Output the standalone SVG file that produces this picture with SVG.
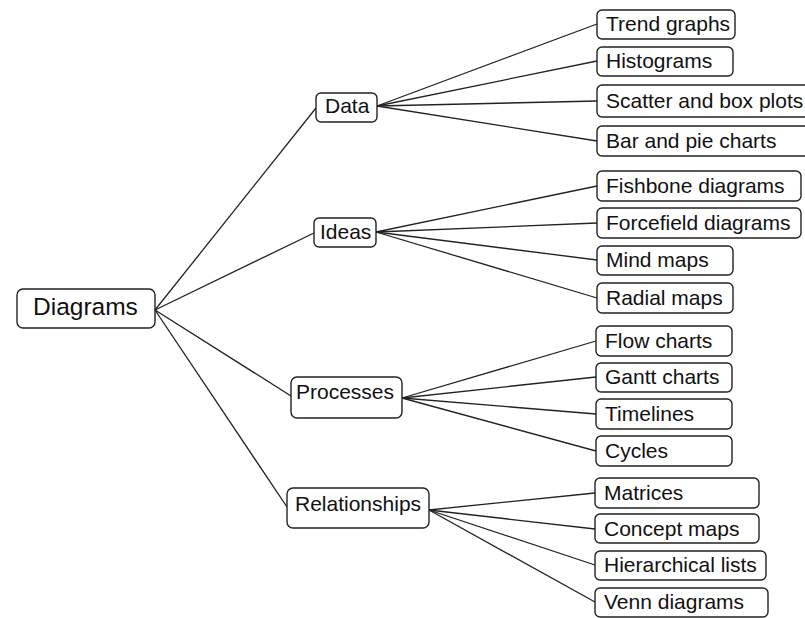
<svg xmlns="http://www.w3.org/2000/svg" width="805" height="618" viewBox="0 0 805 618">
<style>
.box{fill:#fff;stroke:#222;stroke-width:1.4}
.t{font-family:"Liberation Sans",Arial,sans-serif;font-size:21px;fill:#111}
.root{font-size:24.5px}
.c line{stroke:#222;stroke-width:1.3}
</style>
<rect width="805" height="618" fill="#fff"/>
<g class="c" id="connectors">
<line x1="155" y1="310" x2="316" y2="108"/>
<line x1="155" y1="310" x2="314" y2="233"/>
<line x1="155" y1="310" x2="291" y2="396"/>
<line x1="155" y1="310" x2="287" y2="507"/>
<line x1="377" y1="106" x2="597" y2="24"/>
<line x1="377" y1="106" x2="597" y2="61"/>
<line x1="377" y1="106" x2="597" y2="101"/>
<line x1="377" y1="106" x2="597" y2="141"/>
<line x1="376" y1="232" x2="597" y2="186"/>
<line x1="376" y1="232" x2="597" y2="223"/>
<line x1="376" y1="232" x2="597" y2="260"/>
<line x1="376" y1="232" x2="597" y2="298"/>
<line x1="402" y1="398" x2="596" y2="341"/>
<line x1="402" y1="398" x2="596" y2="377"/>
<line x1="402" y1="398" x2="596" y2="414"/>
<line x1="402" y1="398" x2="596" y2="451"/>
<line x1="429" y1="510" x2="595" y2="493"/>
<line x1="429" y1="510" x2="595" y2="529"/>
<line x1="429" y1="510" x2="595" y2="565"/>
<line x1="429" y1="510" x2="595" y2="602"/>
</g>
<g id="n-diagrams"><rect class="box" x="17" y="289" width="138" height="39" rx="6"/><text class="t root" x="33" y="315">Diagrams</text></g>
<g id="n-data"><rect class="box" x="316" y="93" width="61" height="29" rx="5"/><text class="t" x="325" y="113">Data</text></g>
<g id="n-ideas"><rect class="box" x="314" y="218" width="62" height="29" rx="5"/><text class="t" x="320" y="239">Ideas</text></g>
<g id="n-processes"><rect class="box" x="291" y="377" width="111" height="41" rx="6"/><text class="t" x="296" y="399">Processes</text></g>
<g id="n-relationships"><rect class="box" x="287" y="488" width="142" height="40" rx="6"/><text class="t" x="295" y="511">Relationships</text></g>
<g id="n-trend"><rect class="box" x="597" y="10" width="138" height="29" rx="5"/><text class="t" x="606" y="31">Trend graphs</text></g>
<g id="n-hist"><rect class="box" x="597" y="47" width="136" height="29" rx="5"/><text class="t" x="606" y="68">Histograms</text></g>
<g id="n-scatter"><rect class="box" x="597" y="85" width="215" height="32" rx="5"/><text class="t" x="606" y="108">Scatter and box plots</text></g>
<g id="n-bar"><rect class="box" x="597" y="126" width="215" height="30" rx="5"/><text class="t" x="606" y="148">Bar and pie charts</text></g>
<g id="n-fishbone"><rect class="box" x="597" y="171" width="204" height="30" rx="5"/><text class="t" x="606" y="193">Fishbone diagrams</text></g>
<g id="n-forcefield"><rect class="box" x="597" y="208" width="204" height="30" rx="5"/><text class="t" x="606" y="230">Forcefield diagrams</text></g>
<g id="n-mind"><rect class="box" x="597" y="246" width="136" height="29" rx="5"/><text class="t" x="606" y="267">Mind maps</text></g>
<g id="n-radial"><rect class="box" x="597" y="283" width="136" height="30" rx="5"/><text class="t" x="606" y="305">Radial maps</text></g>
<g id="n-flow"><rect class="box" x="596" y="326" width="136" height="30" rx="5"/><text class="t" x="605" y="348">Flow charts</text></g>
<g id="n-gantt"><rect class="box" x="596" y="363" width="136" height="29" rx="5"/><text class="t" x="605" y="384">Gantt charts</text></g>
<g id="n-timelines"><rect class="box" x="596" y="399" width="136" height="30" rx="5"/><text class="t" x="605" y="421">Timelines</text></g>
<g id="n-cycles"><rect class="box" x="596" y="436" width="136" height="30" rx="5"/><text class="t" x="605" y="458">Cycles</text></g>
<g id="n-matrices"><rect class="box" x="595" y="478" width="164" height="30" rx="5"/><text class="t" x="604" y="500">Matrices</text></g>
<g id="n-concept"><rect class="box" x="595" y="514" width="164" height="29" rx="5"/><text class="t" x="604" y="536">Concept maps</text></g>
<g id="n-hier"><rect class="box" x="595" y="551" width="171" height="29" rx="5"/><text class="t" x="604" y="572">Hierarchical lists</text></g>
<g id="n-venn"><rect class="box" x="595" y="588" width="173" height="29" rx="5"/><text class="t" x="604" y="609">Venn diagrams</text></g>
</svg>
